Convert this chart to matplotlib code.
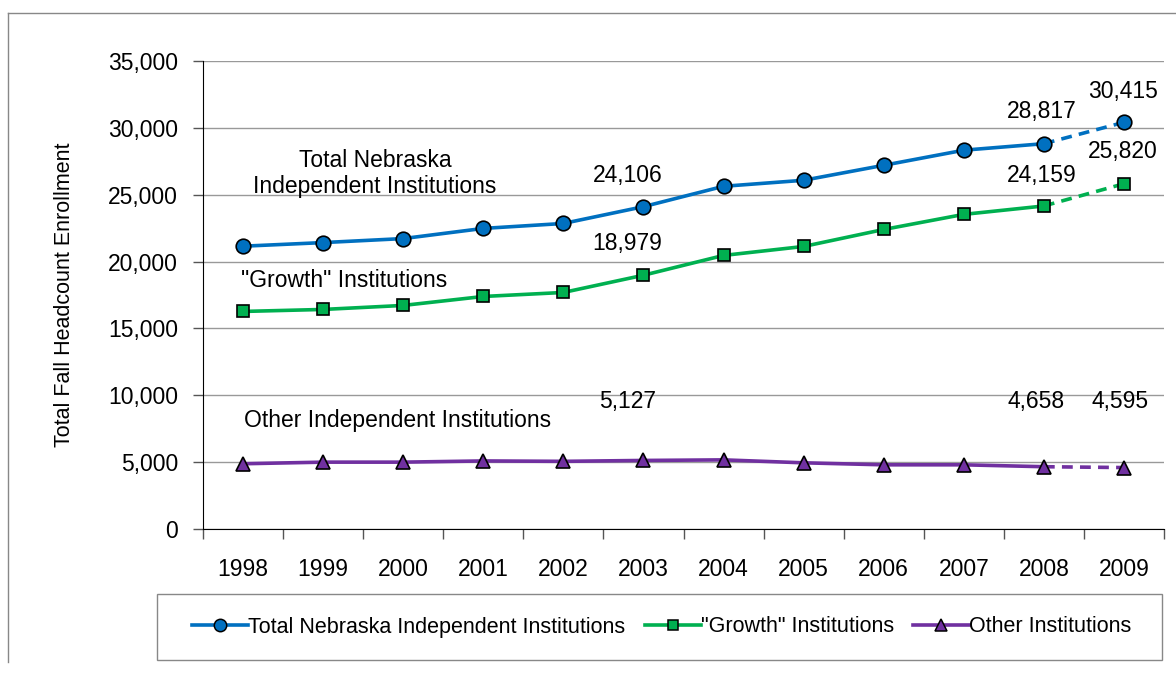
import matplotlib.pyplot as plt
from matplotlib.lines import Line2D
from matplotlib.ticker import FuncFormatter, MultipleLocator, FixedLocator

plt.rcParams['font.family'] = ['Liberation Sans', 'DejaVu Sans']

years = ['1998', '1999', '2000', '2001', '2002', '2003',
         '2004', '2005', '2006', '2007', '2008', '2009']
total = [21150, 21420, 21720, 22480, 22850, 24106,
         25630, 26080, 27200, 28330, 28817, 30415]
growth = [16270, 16420, 16720, 17390, 17690, 18979,
          20460, 21130, 22400, 23530, 24159, 25820]
other = [4880, 5000, 5000, 5090, 5060, 5127,
         5170, 4950, 4800, 4800, 4658, 4595]

series = [
    ('Total Nebraska Independent Institutions', total, '#0070C0', 'o', 10.5),
    ('"Growth" Institutions', growth, '#00B050', 's', 8.5),
    ('Other Institutions', other, '#7030A0', '^', 9.5),
]

fig = plt.figure(figsize=(11.76, 6.75), dpi=100)
W, H = 1176, 675

# outer chart frame
fig.add_artist(Line2D([8 / W, 1], [1 - 13 / H, 1 - 13 / H], color='#888888', lw=1))
fig.add_artist(Line2D([8 / W, 8 / W], [1 - 13 / H, 1 - 662 / H], color='#888888', lw=1))

ax = fig.add_axes([203 / W, 1 - 529 / H, 961 / W, 468 / H])
x = list(range(len(years)))

handles = []
for name, vals, color, marker, ms in series:
    ax.plot(x[:-1], vals[:-1], color=color, lw=2.6, zorder=3)
    ax.plot(x[-2:], vals[-2:], color=color, lw=2.6, ls=(0, (3, 2)), zorder=3)
    ax.plot(x, vals, ls='none', marker=marker, ms=ms, mfc=color, mec='black',
            mew=1.2, zorder=4)
    handles.append(Line2D([], [], color=color, lw=2.6, marker=marker,
                          ms=ms * 0.85, mfc=color, mec='black', mew=1.1, label=name))

ax.set_xlim(-0.5, len(years) - 0.5)
ax.set_ylim(0, 35000)
ax.yaxis.set_major_locator(MultipleLocator(5000))
ax.yaxis.set_major_formatter(FuncFormatter(lambda v, p: f'{int(v):,}'))
ax.set_xticks(x)
ax.set_xticklabels(years)
ax.xaxis.set_minor_locator(FixedLocator([i - 0.5 for i in range(len(years) + 1)]))
ax.tick_params(axis='x', which='major', length=0, pad=21, labelsize=16.5)
ax.tick_params(axis='x', which='minor', length=7, width=1, color='#555555')
ax.tick_params(axis='y', length=7, width=1, color='#555555', labelsize=16.5, pad=11)
ax.grid(axis='y', color='#999999', lw=1)
ax.set_axisbelow(True)
for s in ['top', 'right']:
    ax.spines[s].set_visible(False)
ax.spines['left'].set_color('black')
ax.spines['bottom'].set_color('black')
ax.set_ylabel('Total Fall Headcount Enrollment', fontsize=15.5, labelpad=24)

# series labels
ax.text(1.65, 26600, 'Total Nebraska\nIndependent Institutions', ha='center',
        va='center', fontsize=16.5, linespacing=1.15)
ax.text(-0.03, 18600, '"Growth" Institutions', ha='left', va='center', fontsize=16.5)
ax.text(0.01, 8100, 'Other Independent Institutions', ha='left', va='center', fontsize=16.5)

# value labels
lab_pos = [
    (4.8, 26400, total[5]), (4.8, 21350, growth[5]), (4.8, 9500, other[5]),
    (9.97, 31250, total[10]), (9.97, 26400, growth[10]), (9.9, 9500, other[10]),
    (10.99, 32750, total[11]), (10.99, 28200, growth[11]), (10.95, 9500, other[11]),
]
for lx, ly, v in lab_pos:
    ax.text(lx, ly, f'{v:,}', ha='center', va='center', fontsize=16.5)

# legend box
fig.add_artist(plt.Rectangle((157 / W, 1 - 660 / H), 1005 / W, 66 / H,
                             transform=fig.transFigure, fill=False,
                             edgecolor='#888888', lw=1))
fig.legend(handles=handles, loc='center', bbox_to_anchor=(662 / W, 1 - 627 / H),
           ncol=3, frameon=False, fontsize=15.5, handlelength=2.6,
           handletextpad=0.0, columnspacing=0.9)

fig.savefig('out.png', dpi=100)
